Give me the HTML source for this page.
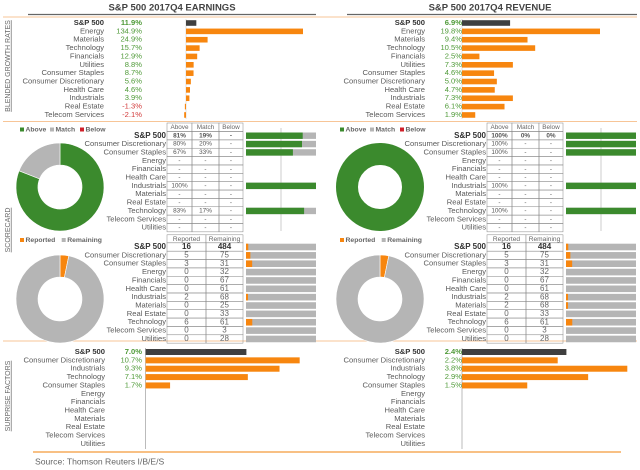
<!DOCTYPE html>
<html><head><meta charset="utf-8"><style>
html,body{margin:0;padding:0;background:#fff;}
svg{display:block;font-family:"Liberation Sans",sans-serif;}
</style></head><body>
<svg id="s" width="640" height="470" viewBox="0 0 640 470" xmlns="http://www.w3.org/2000/svg"></svg>
<script>
const earnCats=["S&P 500","Energy","Materials","Technology","Financials","Utilities","Consumer Staples","Consumer Discretionary","Health Care","Industrials","Real Estate","Telecom Services"];
const earnVals=[11.9,134.9,24.9,15.7,12.9,8.8,8.7,5.6,4.6,3.9,-1.3,-2.1];
const revCats=["S&P 500","Energy","Materials","Technology","Financials","Utilities","Consumer Staples","Consumer Discretionary","Health Care","Industrials","Real Estate","Telecom Services"];
const revVals=[6.9,19.8,9.4,10.5,2.5,7.3,4.6,5.0,4.7,7.3,6.1,1.9];
const scoreCats=["S&P 500","Consumer Discretionary","Consumer Staples","Energy","Financials","Health Care","Industrials","Materials","Real Estate","Technology","Telecom Services","Utilities"];
const earnAbove=[81,80,67,null,null,null,100,null,null,83,null,null];
const earnMatch=[19,20,33,null,null,null,null,null,null,17,null,null];
const earnBelow=[null,null,null,null,null,null,null,null,null,null,null,null];
const revAbove=[100,100,100,null,null,null,100,null,null,100,null,null];
const revMatch=[0,null,null,null,null,null,null,null,null,null,null,null];
const revBelow=[0,null,null,null,null,null,null,null,null,null,null,null];
const earnRep=[16,5,3,0,0,0,2,0,0,6,0,0];
const earnRem=[484,75,31,32,67,61,68,25,33,61,3,28];
const revRep=[16,5,3,0,0,0,2,2,0,6,0,0];
const revRem=[484,75,31,32,67,61,68,68,33,61,3,28];
const surpCats=["S&P 500","Consumer Discretionary","Industrials","Technology","Consumer Staples","Energy","Financials","Health Care","Materials","Real Estate","Telecom Services","Utilities"];
const earnSurp=[7.0,10.7,9.3,7.1,1.7,null,null,null,null,null,null,null];
const revSurp=[2.4,2.2,3.8,2.9,1.5,null,null,null,null,null,null,null];

const S=document.getElementById('s');const NS="http://www.w3.org/2000/svg";
function el(t,a,txt){const e=document.createElementNS(NS,t);for(const k in a)e.setAttribute(k,a[k]);if(txt!=null)e.textContent=txt;S.appendChild(e);return e;}
const ORANGE="#f7860f",GREEN="#3b8a2d",GRAY="#b5b5b5",DARK="#3f3f3f",LBL="#5a5a5a",VG="#4f9a38";
function txt(x,y,s,o){const e=el('text',Object.assign({x:x,y:y,'font-size':7.6,fill:LBL,'text-anchor':'end','dominant-baseline':'middle'},o||{}),s);return e;}

// titles
[["S&P 500 2017Q4 EARNINGS",172,28,316],["S&P 500 2017Q4 REVENUE",490,347,637]].forEach((t,i)=>{
 let e=el('text',{x:t[1],y:8,'font-size':9.5,'font-weight':'bold',fill:'#444','text-anchor':'middle','dominant-baseline':'middle'},t[0]);
 
 let l=el('line',{x1:t[2],x2:t[3],y1:14.5,y2:14.5,stroke:'#666','stroke-width':1.2});
 
});
// separators
[[3,637,17],[3,637,121.5],[3,637,341],[33,621,452]].forEach(s=>{let l=el('line',{x1:s[0],x2:s[1],y1:s[2],y2:s[2],stroke:s[2]>440?'#f39a3b':'#f7c597','stroke-width':s[2]>440?1.3:1});
 });
// vertical section labels
[["BLENDED GROWTH RATES",66],["SCORECARD",230],["SURPRISE FACTORS",396]].forEach(v=>{
 let e=el('text',{x:0,y:0,'font-size':7,fill:'#666','text-anchor':'middle','dominant-baseline':'middle','text-decoration':'underline',transform:`translate(8,${v[1]}) rotate(-90)`},v[0]);
 
});

// growth section
function growth(cats,vals,lx,vx,zero,scale,name){
 const y0=23,st=8.36;
 el('line',{x1:zero,x2:zero,y1:19,y2:119,stroke:'#ccc','stroke-width':0.6});
 cats.forEach((c,i)=>{const y=y0+i*st;const b=i==0;
  let l=txt(lx,y,c,{fill:b?'#333':LBL,'font-weight':b?'bold':'normal'});
  
  const v=vals[i];
  let t=txt(vx,y,v.toFixed(1)+'%',{fill:v<0?'#d23a3a':VG,'font-weight':b?'bold':'normal'});
  
  const w=v*scale;
  let r=el('rect',{x:Math.min(zero,zero+w),y:y-2.8,width:Math.max(Math.abs(w),0.8),height:5.6,fill:b?DARK:ORANGE});
  
 });
}
growth(earnCats,earnVals,104,142,186,117/134.9,'earnings-growth');
growth(revCats,revVals,425,462,462,138/19.8,'revenue-growth');

// donut
function donut(cx,cy,parts,colors,name){
 let a=-Math.PI/2;const R=44,r=22,tot=parts.reduce((p,q)=>p+q,0);
 parts.forEach((p,i)=>{if(p<=0)return;const f=p/tot;
  if(f>=0.9999){let c=el('circle',{cx:cx,cy:cy,r:(R+r)/2,fill:'none',stroke:colors[i],'stroke-width':R-r});return;}
  const b=a+f*2*Math.PI,lg=f>0.5?1:0;
  const P=(rad,ang)=>[cx+rad*Math.cos(ang),cy+rad*Math.sin(ang)];
  const [x1,y1]=P(R,a),[x2,y2]=P(R,b),[x3,y3]=P(r,b),[x4,y4]=P(r,a);
  let e=el('path',{d:`M${x1},${y1}A${R},${R} 0 ${lg} 1 ${x2},${y2}L${x3},${y3}A${r},${r} 0 ${lg} 0 ${x4},${y4}Z`,fill:colors[i],stroke:'#fff','stroke-width':0.6});
  
  a=b;});
}
function legend(x,y,items){let cx=x;items.forEach(it=>{
 let r=el('rect',{x:cx,y:y-2,width:4,height:4,fill:it[1]});
 let t=el('text',{x:cx+5.5,y:y,'font-size':6.8,'font-weight':'bold',fill:'#666','dominant-baseline':'middle'},it[0]);
 
 cx+=5.5+it[0].length*3.9+5;});}

function scorecard(off,above,match,below,name){
 const lx=166+off,c=[167+off,192+off,219+off,243+off],y0=135.7,st=8.36;
 legend(20+off,129.5,[["Above",GREEN],["Match",GRAY],["Below","#d0202a"]]);
 const ab=above[0],ma=match[0]||0;
 donut(60+off,187,[ab,ma,(below[0]||0)],[GREEN,GRAY,'#d0202a'],name+'-donut');
 // header
 ["Above","Match","Below"].forEach((h,j)=>{el('rect',{x:c[j],y:123,width:c[j+1]-c[j],height:8.3,fill:'#fff',stroke:'#888','stroke-width':0.5});
  let t=el('text',{x:(c[j]+c[j+1])/2,y:127.4,'font-size':6.4,fill:'#666','text-anchor':'middle','dominant-baseline':'middle'},h);});
 el('line',{x1:281+off,x2:281+off,y1:128,y2:231,stroke:'#ccc','stroke-width':1});
 scoreCats.forEach((cat,i)=>{const y=y0+i*st,b=i==0;
  let l=txt(lx,y,cat,{fill:b?'#333':LBL,'font-weight':b?'bold':'normal','font-size':b?8:7.6});
  [above,match,below].forEach((arr,j)=>{el('rect',{x:c[j],y:y-4.18,width:c[j+1]-c[j],height:st,fill:'none',stroke:'#888','stroke-width':0.5});
   const v=arr[i];let t=el('text',{x:(c[j]+c[j+1])/2,y:y,'font-size':6.4,fill:'#555','font-weight':b?'bold':'normal','text-anchor':'middle','dominant-baseline':'middle'},v==null?'-':v+'%');
   });
  if(above[i]!=null){const W=70,tot=(above[i]||0)+(match[i]||0)+(below[i]||0);
   const wa=W*above[i]/tot;
   let g=el('rect',{x:246+off,y:y-3.2,width:W,height:6.4,fill:GRAY});
   let r=el('rect',{x:246+off,y:y-3.2,width:wa,height:6.4,fill:GREEN});}
 });
}
scorecard(0,earnAbove,earnMatch,earnBelow,'earnings-score');
scorecard(320,revAbove,revMatch,revBelow,'revenue-score');

function reported(off,rep,rem,name){
 const lx=166+off,c=[167+off,206+off,243+off],y0=247,st=8.36;
 legend(20+off,240,[["Reported",ORANGE],["Remaining",GRAY]]);
 donut(60+off,299,[rep[0],rem[0]],[ORANGE,GRAY],name+'-donut');
 ["Reported","Remaining"].forEach((h,j)=>{el('rect',{x:c[j],y:234.8,width:c[j+1]-c[j],height:8,fill:'#fff',stroke:'#888','stroke-width':0.5});
  let t=el('text',{x:(c[j]+c[j+1])/2,y:239,'font-size':6.6,fill:'#666','text-anchor':'middle','dominant-baseline':'middle'},h);});
 scoreCats.forEach((cat,i)=>{const y=y0+i*st,b=i==0;
  let l=txt(lx,y,cat,{fill:b?'#333':LBL,'font-weight':b?'bold':'normal','font-size':b?8:7.6});
  [rep,rem].forEach((arr,j)=>{el('rect',{x:c[j],y:y-4.18,width:c[j+1]-c[j],height:st,fill:'none',stroke:'#888','stroke-width':0.5});
   let t=el('text',{x:(c[j]+c[j+1])/2,y:y,'font-size':b?8:8,fill:b?'#333':'#666','font-weight':b?'bold':'normal','text-anchor':'middle','dominant-baseline':'middle'},arr[i]);
   });
  const W=70,f=rep[i]/(rep[i]+rem[i]);
  let g=el('rect',{x:246+off,y:y-3.3,width:W,height:6.6,fill:GRAY});
  if(rep[i]>0){let r=el('rect',{x:246+off,y:y-3.3,width:W*f,height:6.6,fill:ORANGE});}
 });
}
reported(0,earnRep,earnRem,'earnings-reported');
reported(320,revRep,revRem,'revenue-reported');

function surprise(vals,lx,vx,zero,scale,name){
 const y0=352,st=8.36;
 el('line',{x1:zero,x2:zero,y1:348,y2:449,stroke:'#aaa','stroke-width':0.8});
 surpCats.forEach((c,i)=>{const y=y0+i*st,b=i==0;
  let l=txt(lx,y,c,{fill:b?'#333':LBL,'font-weight':b?'bold':'normal'});
  const v=vals[i];if(v==null)return;
  let t=txt(vx,y,v.toFixed(1)+'%',{fill:VG,'font-weight':b?'bold':'normal'});
  let r=el('rect',{x:zero,y:y-3,width:v*scale,height:6,fill:b?DARK:ORANGE});
 });
}
surprise(earnSurp,105,142,145.6,14.4,'earnings-surprise');
surprise(revSurp,425,462,462,43.5,'revenue-surprise');

let src=el('text',{x:35,y:462,'font-size':8.6,fill:'#666','dominant-baseline':'middle'},"Source: Thomson Reuters I/B/E/S");

</script>
</body></html>
